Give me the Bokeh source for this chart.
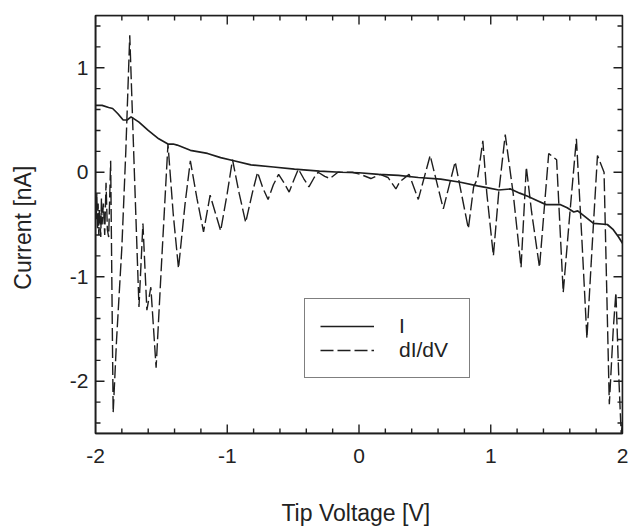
import numpy as np
from bokeh.plotting import figure
from bokeh.models import (Legend, LegendItem, FixedTicker,
                          CustomJSTickFormatter, Range1d)
from bokeh.embed import file_html
from bokeh.resources import INLINE

# ---- data ----
v_i = [-2.0, -1.95, -1.90, -1.87, -1.83, -1.79, -1.76, -1.73, -1.67, -1.60,
       -1.52, -1.45, -1.41, -1.38, -1.28, -1.15, -1.05, -0.95, -0.82, -0.65,
       -0.49, -0.30, -0.14, 0.0, 0.15, 0.30, 0.45, 0.62, 0.77, 0.90, 0.98,
       1.06, 1.15, 1.22, 1.28, 1.35, 1.42, 1.53, 1.58, 1.63, 1.66, 1.72,
       1.78, 1.885, 1.93, 1.97, 2.0]
current = [0.64, 0.64, 0.62, 0.61, 0.56, 0.50, 0.50, 0.53, 0.48, 0.40,
           0.32, 0.27, 0.27, 0.26, 0.21, 0.18, 0.14, 0.11, 0.07, 0.05,
           0.03, 0.01, 0.0, -0.005, -0.02, -0.03, -0.05, -0.065, -0.096, -0.13, -0.15,
           -0.17, -0.16, -0.20, -0.23, -0.27, -0.31, -0.31, -0.34, -0.38, -0.37, -0.43,
           -0.49, -0.50, -0.55, -0.62, -0.68]

v_d = [-2.0, -1.995, -1.99, -1.985, -1.98, -1.975, -1.97, -1.96, -1.955, -1.95,
       -1.94, -1.93, -1.92, -1.91, -1.90, -1.885, -1.866, -1.84, -1.80, -1.77,
       -1.74, -1.705, -1.67, -1.64, -1.61, -1.58, -1.54, -1.50, -1.45, -1.41,
       -1.37, -1.32, -1.28, -1.23, -1.18, -1.13, -1.05, -1.00, -0.96, -0.91,
       -0.86, -0.81, -0.77, -0.73, -0.69, -0.65, -0.61, -0.57, -0.53, -0.49,
       -0.46, -0.42, -0.38, -0.34, -0.31, -0.26, -0.22, -0.16, -0.05, 0.01,
       0.09, 0.16, 0.22, 0.28, 0.31, 0.38, 0.45, 0.54, 0.64, 0.73,
       0.83, 0.87, 0.90, 0.94, 0.97, 1.02, 1.06, 1.11, 1.17, 1.23,
       1.27, 1.31, 1.37, 1.44, 1.50, 1.55, 1.60, 1.65, 1.69, 1.73,
       1.77, 1.81, 1.86, 1.90, 1.93, 1.95, 1.97, 1.99, 2.0]
didv = [-0.25, -0.45, -0.2, -0.55, -0.3, -0.6, -0.35, -0.62, -0.25, -0.5,
        -0.3, -0.6, -0.1, -0.55, -0.62, 0.11, -2.30, -1.6, -0.72, 0.2,
        1.31, 0.0, -1.29, -0.49, -1.32, -1.10, -1.87, -0.9, 0.27, -0.4,
        -0.92, -0.3, 0.11, -0.25, -0.57, -0.22, -0.56, -0.2, 0.12, -0.2,
        -0.48, -0.2, 0.0, -0.15, -0.26, -0.12, -0.02, -0.1, -0.19, -0.06,
        0.03, -0.06, -0.14, -0.05, 0.0, -0.04, -0.06, 0.0, 0.0, -0.02,
        -0.06, -0.02, -0.05, -0.16, -0.09, -0.02, -0.26, 0.16, -0.35, 0.10,
        -0.54, -0.14, -0.06, 0.30, -0.2, -0.8, -0.2, 0.36, -0.2, -0.91,
        0.05, -0.38, -0.91, 0.18, 0.12, -1.15, -0.4, 0.32, -0.6, -1.59,
        -0.7, 0.16, 0.0, -2.22, -1.5, -1.15, -1.9, -2.5, -2.4]

x_lim = (-2.0, 2.0)
y_lim = (-2.5, 1.5)
x_major = [-2, -1, 0, 1, 2]
y_major = [-2, -1, 0, 1]
x_minor = [-1.8, -1.6, -1.4, -1.2, -0.8, -0.6, -0.4, -0.2,
           0.2, 0.4, 0.6, 0.8, 1.2, 1.4, 1.6, 1.8]
y_minor = [-2.4, -2.2, -1.8, -1.6, -1.4, -1.2, -0.8, -0.6, -0.4, -0.2,
           0.2, 0.4, 0.6, 0.8, 1.2, 1.4]

FONT = "Liberation Sans"
INK = "#1e1e1e"
TXT = "#222222"

W, H = 630, 532
BL, BR, BT, BB = 95, 8, 15, 99
FW, FH = W - BL - BR, H - BT - BB  # frame size in px

p = figure(width=W, height=H, x_range=Range1d(*x_lim), y_range=Range1d(*y_lim),
           output_backend="svg", toolbar_location=None,
           min_border_left=BL, min_border_right=BR, min_border_top=BT, min_border_bottom=BB)
p.xgrid.visible = False
p.ygrid.visible = False
p.outline_line_color = INK
p.outline_line_width = 1.5
p.background_fill_color = "white"
p.border_fill_color = "white"

# inward ticks: one continuous comb-shaped line per side
ux = (x_lim[1] - x_lim[0]) / FW
uy = (y_lim[1] - y_lim[0]) / FH
MAJ, MIN = 9, 5

def comb_x(y_edge, sign):
    ticks = sorted([(v, MAJ) for v in x_major] + [(v, MIN) for v in x_minor])
    xs, ys = [], []
    for v, L in ticks:
        xs += [v, v, v]
        ys += [y_edge, y_edge + sign * L * uy, y_edge]
    p.line(xs, ys, line_color=INK, line_width=1.4)

def comb_y(x_edge, sign):
    ticks = sorted([(v, MAJ) for v in y_major] + [(v, MIN) for v in y_minor])
    xs, ys = [], []
    for v, L in ticks:
        xs += [x_edge, x_edge + sign * L * ux, x_edge]
        ys += [v, v, v]
    p.line(xs, ys, line_color=INK, line_width=1.4)

comb_x(y_lim[0], 1)
comb_x(y_lim[1], -1)
comb_y(x_lim[0], 1)
comb_y(x_lim[1], -1)

r1 = p.line(v_i, current, line_color=INK, line_width=1.7)
r2 = p.line(v_d, didv, line_color=INK, line_width=1.4, line_dash="13 4")

fmt = "return tick.toString()"

def style(ax, ticks):
    ax.ticker = FixedTicker(ticks=ticks)
    ax.axis_line_color = INK
    ax.axis_line_width = 1.5
    ax.major_tick_line_color = None
    ax.minor_tick_line_color = None
    ax.major_tick_in = 0
    ax.major_tick_out = 0
    ax.minor_tick_in = 0
    ax.minor_tick_out = 0
    ax.major_label_text_font = FONT
    ax.major_label_text_font_size = "21px"
    ax.major_label_text_color = TXT
    ax.axis_label_text_font = FONT
    ax.axis_label_text_font_size = "23px"
    ax.axis_label_text_font_style = "normal"
    ax.axis_label_text_color = TXT

xa = p.xaxis[0]
style(xa, x_major)
xa.formatter = CustomJSTickFormatter(code=fmt)
xa.axis_label = "Tip Voltage  [V]"
xa.major_label_standoff = 15
xa.axis_label_standoff = 34

ya = p.yaxis[0]
style(ya, y_major)
ya.formatter = CustomJSTickFormatter(code=fmt)
ya.axis_label = "Current  [nA]"
ya.major_label_standoff = 7
ya.axis_label_standoff = 31

legend = Legend(items=[LegendItem(label="I", renderers=[r1]),
                       LegendItem(label="dI/dV", renderers=[r2])],
                location=(209, 55), margin=0, padding=15, spacing=0,
                glyph_width=54, glyph_height=24, label_height=24, label_width=55,
                label_standoff=25, label_text_font=FONT, label_text_font_size="21px",
                label_text_color=TXT,
                border_line_color="black", border_line_width=1.5,
                background_fill_color="white", background_fill_alpha=1.0)
p.add_layout(legend)

open("out.html", "w").write(file_html(p, INLINE))
